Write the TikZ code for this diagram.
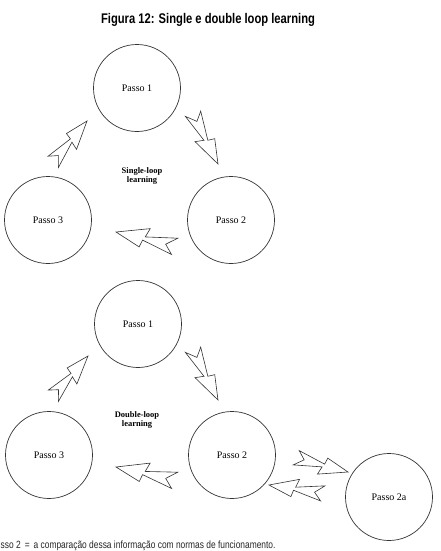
\documentclass[tikz,border=0pt]{standalone}
\usepackage{fontspec}
\setmainfont{Liberation Serif}
\newfontfamily\narrowsans[FakeStretch=0.8]{Liberation Sans}
\usetikzlibrary{calc}
\definecolor{traco}{gray}{0.2}

% Seta em zigue-zague, da cauda #1 ate a ponta #2.
\newcommand{\raio}[2]{%
  \begin{scope}[shift={(#1)}, x={($(#2)-(#1)$)}, y={($(#1)!1!90:(#2)-(#1)$)}]
    \draw[seta] (0,-0.13) -- (0.52,-0.03) -- (0.47,-0.18) -- (1,0) -- (0.58,0.15)
      -- (0.55,0.03) -- (0.04,0.15) -- (0.17,0.01) -- cycle;
  \end{scope}}

\begin{document}
\begin{tikzpicture}[x=1pt,y=-1pt,
  passo/.style={circle, draw=traco, line width=0.7pt, minimum size=87pt, inner sep=0pt,
    font=\fontsize{10}{12}\selectfont},
  seta/.style={draw=traco, line width=0.6pt, line join=miter, fill=white},
  rotulo/.style={align=center, font=\bfseries\fontsize{8.5}{9}\selectfont}]
  \useasboundingbox (0,0) rectangle (440,551);

  % Titulo.
  \node[font=\narrowsans\bfseries\fontsize{14}{16}\selectfont] (titulo) at (208,20)
    {Figura 12: Single e double loop learning};

  % Single-loop.
  \node[passo] (sp1) at (137,88) {Passo 1};
  \node[passo] (sp2) at (231,220) {Passo 2};
  \node[passo] (sp3) at (48,220) {Passo 3};
  \node[rotulo] (simples) at (142,176) {Single-loop\\learning};
  \coordinate (s31t) at (53,163);   \coordinate (s31p) at (87,121);
  \coordinate (s12t) at (192,113);  \coordinate (s12p) at (218,164);
  \coordinate (s23t) at (176,246);  \coordinate (s23p) at (116,232);
  \raio{s31t}{s31p}
  \raio{s12t}{s12p}
  \raio{s23t}{s23p}

  % Double-loop.
  \node[passo] (dp1) at (138,324) {Passo 1};
  \node[passo] (dp2) at (232,455) {Passo 2};
  \node[passo] (dp3) at (49,455) {Passo 3};
  \node[passo] (dp2a) at (389,497) {Passo 2a};
  \node[rotulo] (dupla) at (137,420) {Double-loop\\learning};
  \coordinate (d31t) at (53,397);   \coordinate (d31p) at (88,356);
  \coordinate (d12t) at (192,349);  \coordinate (d12p) at (218,400);
  \coordinate (d23t) at (176,480);  \coordinate (d23p) at (116,467);
  \coordinate (d22at) at (295,458); \coordinate (d22ap) at (348,472);
  \coordinate (d2a2t) at (324,493); \coordinate (d2a2p) at (269,485);
  \raio{d31t}{d31p}
  \raio{d12t}{d12p}
  \raio{d23t}{d23p}
  \raio{d22at}{d22ap}
  \raio{d2a2t}{d2a2p}

  % Nota.
  \node[anchor=base west, inner sep=0pt, text=black!85,
    font=\narrowsans\fontsize{10.5}{12}\selectfont] (nota) at (0.5,548)
    {sso 2\hspace{4pt}=\hspace{4pt}a comparação dessa informação com normas de funcionamento.};
\end{tikzpicture}
\end{document}
